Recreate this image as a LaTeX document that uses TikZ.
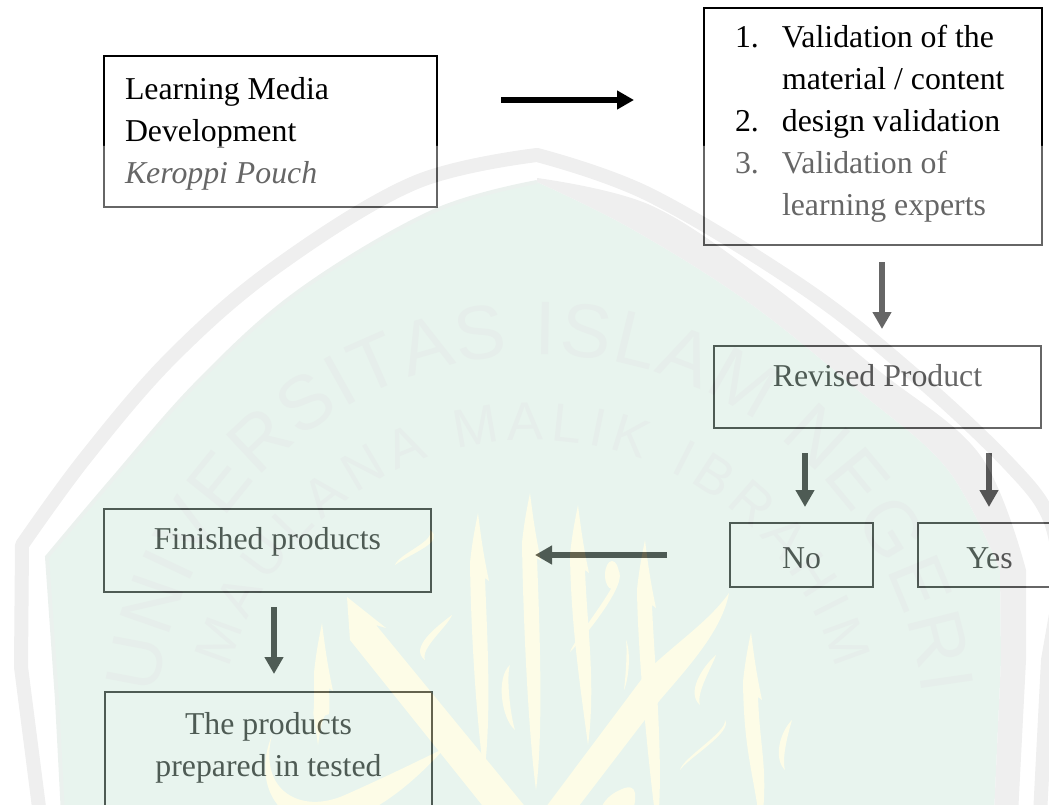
\documentclass[tikz,border=0pt]{standalone}
\usepackage{fontspec}
\setmainfont{Liberation Serif}
\newfontfamily\wmfont{Liberation Sans}
\usetikzlibrary{arrows.meta,decorations.text}
\definecolor{wgreen}{RGB}{197,228,212}
\definecolor{wband}{RGB}{214,214,214}
\definecolor{wband2}{RGB}{205,220,212}
\definecolor{wyellow}{RGB}{250,248,195}
\definecolor{wtext}{RGB}{192,212,204}
\tikzset{
  boxn/.style={draw=black,line width=1.5pt,inner sep=0pt,outer sep=0pt,anchor=north west,rectangle},
  arr/.style={draw=black,line width=6.5pt,-{Triangle[length=17pt,width=18pt]}},
  band/.style={draw=wband,line width=14pt,line join=round},
  wy/.style={fill=wyellow,draw=none}
}
\newcommand{\txtfont}{\fontsize{31.8}{42}\selectfont}
\newcommand{\boxtext}[4]{\begin{minipage}[t][#2pt][t]{#1pt}\txtfont\vspace*{#3pt}\strut#4\end{minipage}}
\newcommand{\alifshape}[4]{\fill[wy] (#1,#2) .. controls (#1+3,#2+25) and (#1+6,#2+45) .. (#1+11,#2+68) -- (#1+7,#2+65) .. controls (#1+9,#2+120) and (#3+8,#4-60) .. (#3,#4) .. controls (#3-8,#4-60) and (#1-7,#2+120) .. (#1-8,#2+50) .. controls (#1-6,#2+30) and (#1-3,#2+15) .. cycle;}
\newcommand{\leafshape}[5]{\fill[wy] (#1,#2) .. controls (#1+#5,#2+12) and (#3+#5,#4-12) .. (#3,#4) .. controls (#3+0.3*#5,#4-12) and (#1+0.3*#5,#2+12) .. cycle;}
\begin{document}
\begin{tikzpicture}[x=1pt,y=-1pt]
\useasboundingbox (0,0) rectangle (1049,805);
% boxes
\node[boxn] (learn) at (104,56) {\boxtext{333}{151}{14.6}{\raggedright\hspace*{21pt}Learning Media\\\hspace*{21pt}Development\\\hspace*{21pt}\textit{Keroppi Pouch}}};
\node[boxn] (valid) at (704,8) {\boxtext{338}{237}{10.6}{\raggedright
  \hspace*{31pt}\makebox[47pt][l]{1.}Validation of the\\
  \hspace*{78pt}material / content\\
  \hspace*{31pt}\makebox[47pt][l]{2.}design validation\\
  \hspace*{31pt}\makebox[47pt][l]{3.}Validation of\\
  \hspace*{78pt}learning experts}};
\node[boxn] (rev) at (714,346) {\boxtext{327}{82}{10.6}{\centering Revised Product}};
\node[boxn] (no) at (730,523) {\boxtext{143}{64}{16}{\centering No}};
\node[boxn] (yes) at (918,523) {\boxtext{143}{64}{16}{\centering Yes}};
\node[boxn] (fin) at (104,509) {\boxtext{327}{83}{10.6}{\centering Finished products}};
\node[boxn] (prep) at (105,692) {\boxtext{327}{130}{12.6}{\centering The products\\prepared in tested}};
% connector ends
\coordinate (a1s) at (501,100); \coordinate (a1e) at (634,100);
\coordinate (a2s) at (882,262); \coordinate (a2e) at (882,329);
\coordinate (a3s) at (805,453); \coordinate (a3e) at (805,507);
\coordinate (a4s) at (989,453); \coordinate (a4e) at (989,507);
\coordinate (a5s) at (667,555); \coordinate (a5e) at (535,555);
\coordinate (a6s) at (274,607); \coordinate (a6e) at (274,674);
\draw[arr] (a1s) -- (a1e);
\draw[arr] (a2s) -- (a2e);
\draw[arr] (a3s) -- (a3e);
\draw[arr] (a4s) -- (a4e);
\draw[arr] (a5s) -- (a5e);
\draw[arr] (a6s) -- (a6e);
% watermark laid over everything below y=146
\begin{scope}[transparency group,opacity=0.4]
  \fill[white] (0,146) rectangle (1049,805);
  % outer band
  \draw[band] (40,815) -- (21,667) -- plot[smooth,tension=0.6] coordinates {(22,545) (86,457) (172,357) (276,267) (414,183) (537,155)}
     -- plot[smooth,tension=0.6] coordinates {(537,155) (650,195) (807,290) (920,380) (1010,465) (1049,517) (1062,580)}
     -- (1048,660) -- (1040,815);
  % shield
  \fill[wgreen] (63,815) -- (57,700) -- plot[smooth,tension=0.6] coordinates {(47,557) (112,480) (198,382) (298,292) (432,212) (537,182)}
     -- plot[smooth,tension=0.6] coordinates {(537,182) (630,228) (748,302) (860,392) (948,470) (1000,570)}
     -- (1001,660) -- (994,815) -- cycle;
  \draw[wband2,line width=4pt] (63,815) -- (57,700) -- plot[smooth,tension=0.6] coordinates {(47,557) (112,480) (198,382) (298,292) (432,212) (537,182)};
  \fill[wband] plot[smooth,tension=0.6] coordinates {(537,178) (650,205) (765,280) (878,370) (980,455) (1026,570)}
     -- (1026,660) -- (1018,815) -- (994,815) -- (1001,660)
     -- plot[smooth,tension=0.6] coordinates {(1000,570) (948,470) (860,392) (748,302) (630,228) (537,182)} -- cycle;
  % calligraphy
  \alifshape{478}{513}{484}{775}
  \alifshape{530}{493}{536}{790}
  \alifshape{578}{505}{588}{745}
  \alifshape{645}{540}{657}{830}
  \alifshape{751}{632}{761}{830}
  \alifshape{322}{623}{318}{745}
  \fill[wy] (347,597) -- (386,628) -- (376,625) -- (532,815) -- (490,815) -- (350,640) -- cycle;
  \fill[wy] (729,593) .. controls (722,630) and (690,665) .. (660,700) -- (572,815) -- (540,815) -- (650,668) .. controls (680,640) and (710,620) .. (729,593) -- cycle;
  \fill[wy] (272,735) .. controls (258,790) and (300,815) .. (345,795) .. controls (390,775) and (420,760) .. (445,748) .. controls (420,775) and (380,815) .. (330,825) .. controls (285,830) and (250,790) .. (272,735) -- cycle;
  \leafshape{452}{615}{425}{660}{-16}
  \leafshape{716}{655}{700}{705}{-14}
  \leafshape{618}{570}{570}{652}{12}
  \leafshape{510}{665}{515}{730}{-14}
  \leafshape{626}{640}{624}{690}{5}
  \leafshape{725}{720}{680}{770}{8}
  \leafshape{792}{720}{785}{770}{-12}
  \leafshape{430}{530}{395}{565}{16}
  \fill[wy] (612,575) circle[x radius=7,y radius=14];
  \fill[wy] (620,790) .. controls (640,780) and (636,800) .. (632,815) -- (600,815) .. controls (600,805) and (608,795) .. (620,790) -- cycle;
  % curved lettering
  \path[decorate,decoration={text along path,text align=fit to path,
      text={|\wmfont\fontsize{76}{76}\selectfont\color{wtext}|UNIVERSITAS ISLAM NEGERI}}]
    (157.5,695) arc[start angle=186.7,end angle=353.3,radius=385];
  \path[decorate,decoration={text along path,text align=fit to path,
      text={|\wmfont\fontsize{54}{54}\selectfont\color{wtext}|MAULANA MALIK IBRAHIM}}]
    (229,669) arc[start angle=196,end angle=344,radius=316];
\end{scope}
\end{tikzpicture}
\end{document}
